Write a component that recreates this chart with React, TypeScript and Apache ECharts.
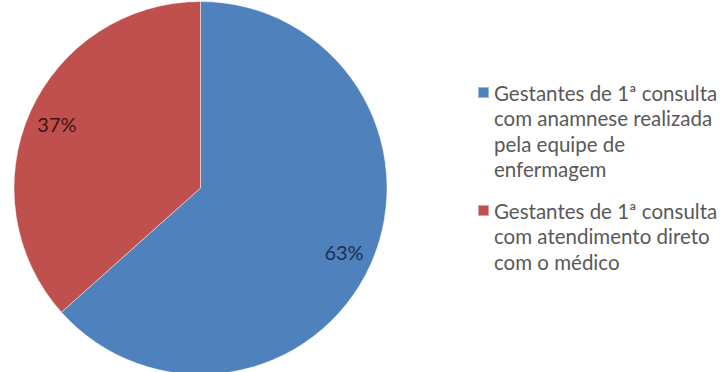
import React, { useEffect, useRef } from "react";
import * as echarts from "echarts";

const categories = [
  "Gestantes de 1ª consulta com anamnese realizada pela equipe de enfermagem",
  "Gestantes de 1ª consulta com atendimento direto com o médico",
];
const legendLines = [
  ["Gestantes de 1ª consulta", "com anamnese realizada", "pela equipe de", "enfermagem"],
  ["Gestantes de 1ª consulta", "com atendimento direto", "com o médico"],
];
const values = [63.4, 36.6];
const colors = ["#4F81BD", "#C0504D"];
const labelColors = ["#1b2f52", "#3d1414"];

const LH = 25.5;
const ICON = 11;
const legendIconTops = [87, 205];

export default function App() {
  const ref = useRef<HTMLDivElement>(null);
  useEffect(() => {
    if (!ref.current) return;
    const chart = echarts.init(ref.current, undefined, { renderer: "svg" });
    const data = categories.map((name, i) => ({
      name,
      value: values[i],
      itemStyle: { color: colors[i] },
    }));
    const legends = categories.map((name, i) => {
      const n = legendLines[i].length;
      const blank = n - 1;
      const c = legendIconTops[i] + ICON / 2;
      return {
        orient: "vertical",
        left: 477,
        top: c - (n + blank) * LH / 2,
        padding: 0,
        itemWidth: ICON,
        itemHeight: ICON,
        icon: "rect",
        selectedMode: false,
        textStyle: {
          fontFamily: "Lato",
          fontSize: 20.5,
          color: "#595959",
          lineHeight: LH,
        },
        data: [name],
        formatter: () => "\n".repeat(blank) + legendLines[i].join("\n"),
      };
    });
    chart.setOption({
      animation: false,
      backgroundColor: "#ffffff",
      legend: legends,
      series: [
        {
          type: "pie",
          center: [200.5, 188],
          radius: [0, 186.5],
          startAngle: 90,
          clockwise: true,
          label: { show: false },
          labelLine: { show: false },
          emphasis: { disabled: true },
          itemStyle: { borderColor: "rgba(255,255,255,0.45)", borderWidth: 1 },
          data,
        },
        {
          type: "pie",
          center: [200.5, 188],
          radius: [122, 186.5],
          startAngle: 90,
          clockwise: true,
          silent: true,
          emphasis: { disabled: true },
          itemStyle: { color: "rgba(0,0,0,0)" },
          labelLine: { show: false },
          label: {
            show: true,
            position: "inside",
            fontFamily: "Lato",
            fontSize: 20,
            formatter: (p: any) => Math.round(p.percent) + "%",
          },
          data: categories.map((name, i) => ({
            name,
            value: values[i],
            itemStyle: { color: "rgba(0,0,0,0)" },
            label: { color: labelColors[i] },
          })),
        },
      ],
    });
    return () => chart.dispose();
  }, []);
  return (
    <div
      ref={ref}
      style={{ position: "fixed", left: 0, top: 0, width: 721, height: 372 }}
    />
  );
}
